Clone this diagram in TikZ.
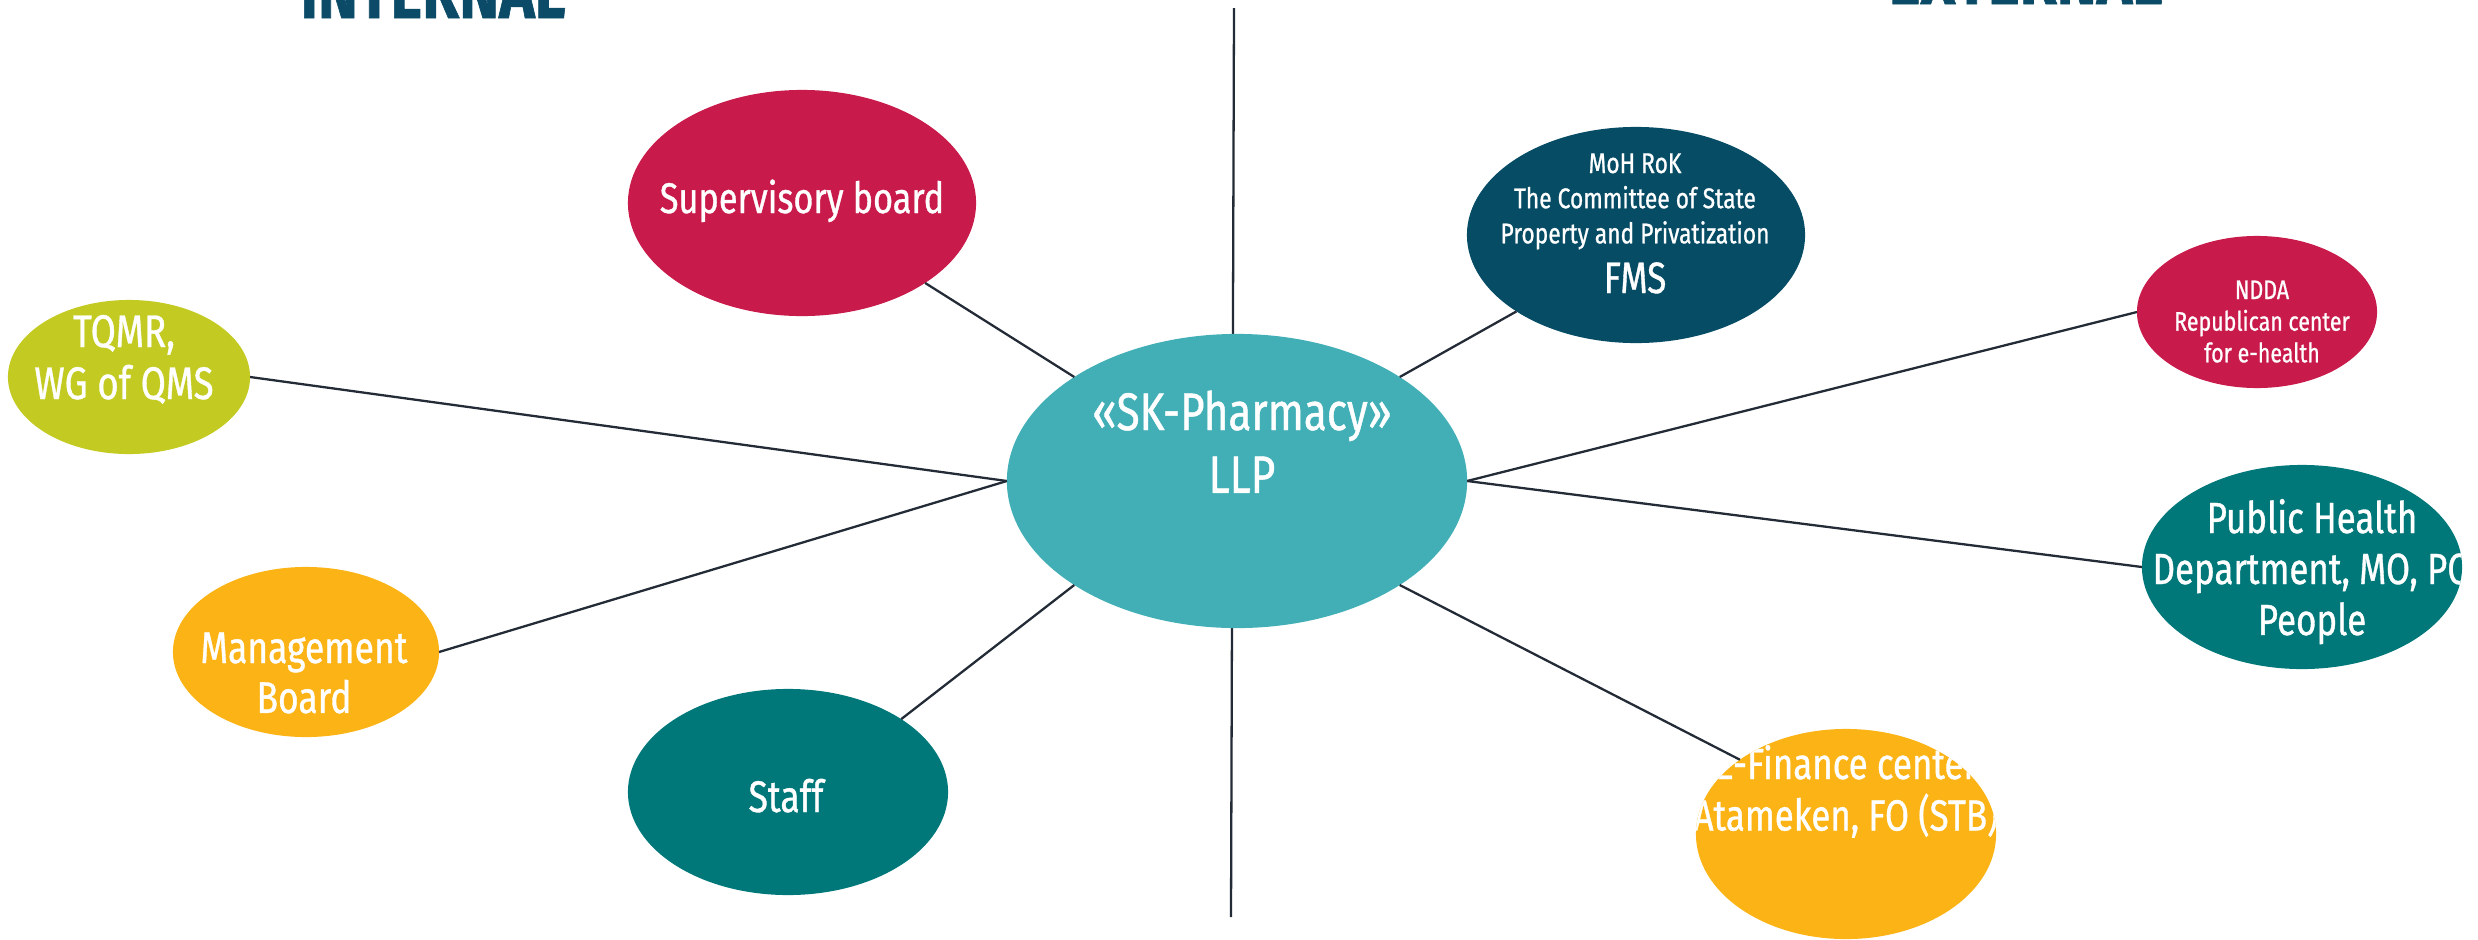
\documentclass[tikz,border=0pt]{standalone}
\usepackage{fontspec}
\setmainfont{Fira Sans}[FakeStretch=0.80, FakeBold=0.8]
\usetikzlibrary{shapes.geometric}

\definecolor{skc}{HTML}{42AFB7}
\definecolor{crimson}{HTML}{C91B4B}
\definecolor{olive}{HTML}{C3CB22}
\definecolor{amber}{HTML}{FBB315}
\definecolor{tealc}{HTML}{00787A}
\definecolor{navy}{HTML}{074C65}
\definecolor{titlec}{HTML}{0C4B67}
\definecolor{linkc}{HTML}{232B36}

% centred stack of lines whose baseline is the first line
\newcommand\stacklines[1]{\begin{tabular}[t]{@{}c@{}}#1\end{tabular}}

\begin{document}
\begin{tikzpicture}[x=0.01cm, y=-0.01cm,
  bubble/.style={ellipse, inner sep=0pt, outer sep=0pt},
  lbl/.style={text=white, anchor=base, inner sep=0pt, outer sep=0pt},
  link/.style={draw=linkc, line width=0.65pt},
  heading/.style={text=titlec, anchor=base, inner sep=0pt,
    font=\fontsize{21.4}{24}\selectfont\bfseries}]

\useasboundingbox (0,0) rectangle (2478,939);

% dividing line between the internal and external sides
\coordinate (vtop) at (1234,8);
\coordinate (vbot) at (1231,917);
\draw[link] (vtop) -- (vbot);

\node[heading] (internal) at (433,18) {INTERNAL};
\node[heading] (external) at (2026,4) {EXTERNAL};

% bubbles
\node[bubble, fill=skc, minimum width=4.60cm, minimum height=2.94cm] (sk) at (1237,481) {};
\node[bubble, fill=crimson, minimum width=3.48cm, minimum height=2.26cm] (sup) at (802,203) {};
\node[bubble, fill=olive, minimum width=2.42cm, minimum height=1.54cm] (tqmr) at (129,377) {};
\node[bubble, fill=amber, minimum width=2.66cm, minimum height=1.70cm] (mgmt) at (306,652) {};
\node[bubble, fill=tealc, minimum width=3.20cm, minimum height=2.06cm] (staff) at (788,792) {};
\node[bubble, fill=navy, minimum width=3.38cm, minimum height=2.16cm] (moh) at (1636,235) {};
\node[bubble, fill=crimson, minimum width=2.40cm, minimum height=1.52cm] (ndda) at (2257,312) {};
\node[bubble, fill=tealc, minimum width=3.20cm, minimum height=2.04cm] (ph) at (2302,567) {};
\node[bubble, fill=amber, minimum width=3.00cm, minimum height=2.10cm] (ef) at (1846,834) {};

% connectors
\draw[link] (sup.south east) -- (sk.north west);
\draw[link] (tqmr.east) -- (sk.west);
\draw[link] (mgmt.east) -- (sk.west);
\draw[link] (staff.north east) -- (sk.south west);
\draw[link] (sk.north east) -- (moh.south west);
\draw[link] (sk.east) -- (ndda.west);
\draw[link] (sk.east) -- (ph.west);
\draw[link] (sk.south east) -- (ef.north west);

% labels
\node[lbl, font=\fontsize{15}{17.9}\selectfont] (sk-t) at (1242,430)
  {\stacklines{«SK-Pharmacy»\\LLP}};
\node[lbl, font=\fontsize{12.2}{17}\selectfont] (sup-t) at (802,213)
  {Supervisory board};
\node[lbl, font=\fontsize{12.6}{17}\selectfont] (staff-t) at (786,812)
  {Staff};
\node[lbl, font=\fontsize{13}{14.8}\selectfont] (tqmr-t) at (124,347)
  {\stacklines{TQMR,\\WG of QMS}};
\node[lbl, font=\fontsize{12.6}{14.2}\selectfont] (mgmt-t) at (304,663)
  {\stacklines{Management\\Board}};
\node[lbl, font=\fontsize{8.1}{10}\selectfont] (moh-t) at (1635,173)
  {\stacklines{MoH RoK\\The Committee of State\\Property and Privatization}};
\node[lbl, font=\fontsize{12.5}{14}\selectfont] (moh-fms) at (1635,293)
  {FMS};
\node[lbl, font=\fontsize{7.6}{9}\selectfont] (ndda-t) at (2262,299)
  {\stacklines{NDDA\\Republican center\\for e-health}};

% labels that overflow their bubble are cut at its edge
\begin{scope}
  \clip (ph.center) ellipse [x radius=1.60cm, y radius=1.02cm];
  \node[lbl, font=\fontsize{12.4}{14.5}\selectfont] (ph-t) at (2312,533)
    {\stacklines{Public Health\\Department, MO, PO\\People}};
\end{scope}
\begin{scope}
  \clip (ef.center) ellipse [x radius=1.50cm, y radius=1.05cm];
  \node[lbl, font=\fontsize{12.4}{13.9}\selectfont] (ef-t) at (1846,779)
    {\stacklines{E-Finance center\\Atameken, FO (STB)}};
\end{scope}

\end{tikzpicture}
\end{document}
